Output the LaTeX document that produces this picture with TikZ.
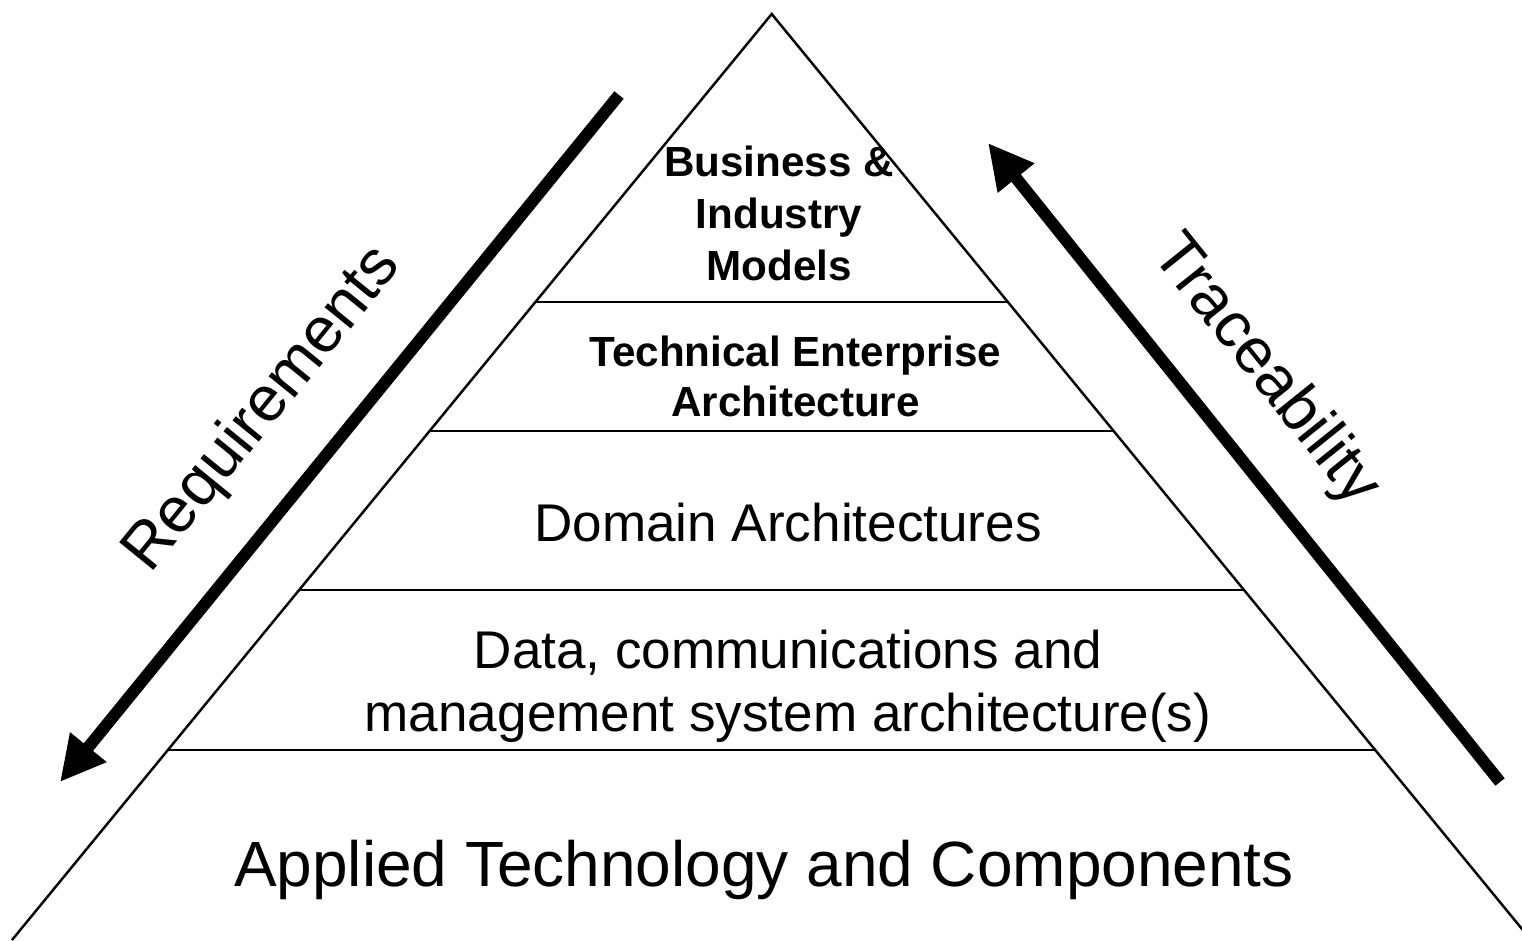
\documentclass[tikz,border=0pt]{standalone}
\usepackage{fontspec}
\setmainfont{Liberation Sans}
\usetikzlibrary{arrows.meta}

\tikzset{
  layer/.style={anchor=base,align=center,inner sep=0pt},
  flow/.style={line width=3.4pt,-{Triangle[length=12.8pt,width=12.5pt]}},
  flowlabel/.style={anchor=center,inner sep=0pt,font=\fontsize{18.2}{21.8}\selectfont},
}

\begin{document}
\begin{tikzpicture}
  \useasboundingbox (0,0) rectangle (15.22,9.40);

  \coordinate (bl) at (0.12,0);
  \coordinate (top) at (7.717,9.26);
  \coordinate (br) at (15.31,0);

  \draw [line width=0.7pt] (bl) -- (top) -- (br);

  % layer borders
  \coordinate (l1) at (5.355,6.38);  \coordinate (r1) at (10.079,6.38);
  \coordinate (l2) at (4.297,5.09);  \coordinate (r2) at (11.137,5.09);
  \coordinate (l3) at (2.993,3.50);  \coordinate (r3) at (12.441,3.50);
  \coordinate (l4) at (1.680,1.90);  \coordinate (r4) at (13.754,1.90);

  \draw [line width=0.7pt] (l1) -- (r1);
  \draw [line width=0.7pt] (l2) -- (r2);
  \draw [line width=0.7pt] (l3) -- (r3);
  \draw [line width=0.7pt] (l4) -- (r4);

  % anchor=base sits on the last line
  \node (models) [layer,font=\bfseries\fontsize{12}{14.7}\selectfont] at (7.79,6.60)
    {Business \&\\Industry\\Models};
  \node (tea) [layer,font=\bfseries\fontsize{12}{14.2}\selectfont] at (7.955,5.233)
    {Technical Enterprise\\Architecture};
  \node (domain) [layer,font=\fontsize{15.1}{18.1}\selectfont] at (7.88,3.983)
    {Domain Architectures};
  \node (systems) [layer,font=\fontsize{15.1}{18.1}\selectfont] at (7.88,2.083)
    {Data, communications and\\management system architecture(s)};
  \node (applied) [layer,font=\fontsize{18.2}{21.8}\selectfont] at (7.64,0.54)
    {Applied Technology and Components};

  % requirements down, traceability up
  \coordinate (req1) at (6.19,8.45);
  \coordinate (req2) at (0.60,1.58);
  \coordinate (tr1) at (15.00,1.58);
  \coordinate (tr2) at (9.88,7.97);

  \draw [flow] (req1) -- (req2);
  \draw [flow] (tr1) -- (tr2);

  \node (req) [flowlabel,rotate=50.9] at (2.635,5.30) {Requirements};
  \node (trace) [flowlabel,rotate=-51.3] at (12.65,5.69) {Traceability};
\end{tikzpicture}
\end{document}
